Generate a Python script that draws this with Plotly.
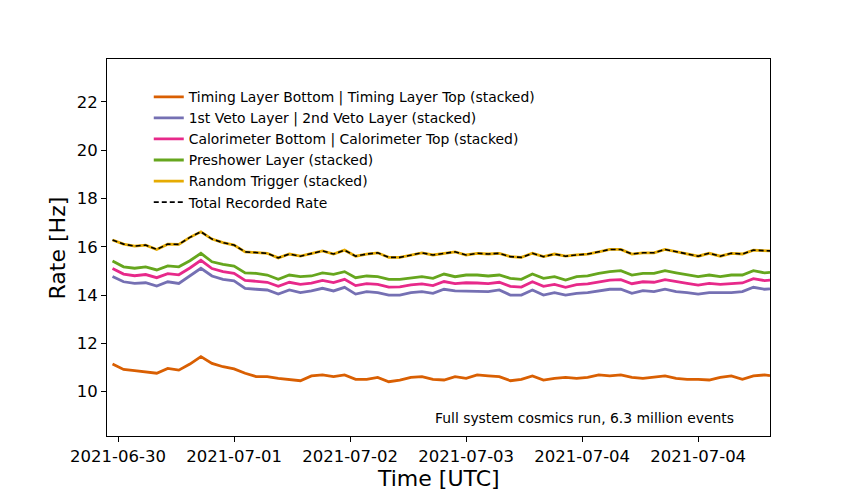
import pandas as pd
import plotly.graph_objects as go

# hours since 2021-06-30 00:00 UTC (~2 h spacing)
hours = [11, 13, 15, 17, 19, 21, 23, 25, 27, 29, 31, 33, 35, 37, 39, 41, 43, 45, 47, 49,
         51, 53, 55, 57, 59, 61, 63, 65, 67, 69, 71, 73, 75, 77, 79, 81, 83, 85, 87, 89,
         91, 93, 95, 97, 99, 101, 103, 105, 107, 109, 111, 113, 115, 117, 119, 121, 123, 125, 127, 129, 130]

# stacked rates [Hz]
timing = [11.14, 10.92, 10.87, 10.82, 10.76, 10.96, 10.89, 11.14, 11.45, 11.17, 11.03, 10.94, 10.76, 10.62, 10.62,
          10.55, 10.51, 10.45, 10.65, 10.69, 10.62, 10.69, 10.51, 10.51, 10.59, 10.41, 10.48, 10.59, 10.62, 10.51,
          10.48, 10.62, 10.55, 10.69, 10.65, 10.62, 10.45, 10.51, 10.65, 10.48, 10.55, 10.59, 10.55, 10.59, 10.69,
          10.65, 10.69, 10.59, 10.55, 10.59, 10.65, 10.55, 10.51, 10.51, 10.48, 10.59, 10.65, 10.51, 10.65, 10.69, 10.66]
veto = [14.77, 14.55, 14.48, 14.51, 14.37, 14.55, 14.48, 14.79, 15.11, 14.79, 14.65, 14.59, 14.28, 14.24, 14.21,
        14.04, 14.21, 14.10, 14.17, 14.28, 14.17, 14.32, 14.04, 14.14, 14.10, 14.00, 14.00, 14.10, 14.14, 14.07,
        14.24, 14.17, 14.17, 14.17, 14.14, 14.21, 14.00, 14.00, 14.21, 14.00, 14.10, 14.00, 14.07, 14.10, 14.18,
        14.24, 14.24, 14.07, 14.18, 14.14, 14.24, 14.14, 14.10, 14.04, 14.10, 14.10, 14.10, 14.14, 14.32, 14.24, 14.26]
calo = [15.10, 14.87, 14.80, 14.85, 14.72, 14.89, 14.84, 15.12, 15.44, 15.10, 14.97, 14.90, 14.61, 14.58, 14.53,
        14.36, 14.53, 14.44, 14.49, 14.61, 14.52, 14.65, 14.39, 14.47, 14.44, 14.33, 14.34, 14.42, 14.46, 14.39,
        14.56, 14.47, 14.51, 14.50, 14.47, 14.53, 14.36, 14.33, 14.55, 14.36, 14.44, 14.32, 14.43, 14.46, 14.55,
        14.62, 14.64, 14.47, 14.55, 14.53, 14.64, 14.55, 14.48, 14.41, 14.48, 14.44, 14.48, 14.50, 14.68, 14.60, 14.62]
preshower = [15.41, 15.17, 15.11, 15.17, 15.04, 15.21, 15.17, 15.42, 15.73, 15.38, 15.27, 15.20, 14.92, 14.90, 14.83,
             14.65, 14.83, 14.76, 14.79, 14.92, 14.86, 14.97, 14.72, 14.79, 14.76, 14.65, 14.65, 14.72, 14.76, 14.69,
             14.87, 14.76, 14.83, 14.83, 14.79, 14.83, 14.69, 14.65, 14.87, 14.69, 14.76, 14.62, 14.76, 14.79, 14.90,
             14.97, 15.01, 14.83, 14.90, 14.90, 15.01, 14.92, 14.83, 14.76, 14.83, 14.76, 14.83, 14.83, 15.01, 14.92, 14.94]
random_trig = [16.28, 16.11, 16.03, 16.07, 15.89, 16.11, 16.10, 16.39, 16.62, 16.32, 16.17, 16.07, 15.79, 15.77, 15.73,
               15.54, 15.70, 15.61, 15.73, 15.83, 15.70, 15.86, 15.61, 15.70, 15.75, 15.56, 15.56, 15.66, 15.75, 15.66,
               15.73, 15.79, 15.66, 15.73, 15.70, 15.73, 15.59, 15.56, 15.73, 15.59, 15.70, 15.61, 15.66, 15.70, 15.79,
               15.89, 15.89, 15.70, 15.75, 15.75, 15.89, 15.79, 15.70, 15.61, 15.73, 15.61, 15.73, 15.70, 15.86, 15.83, 15.83]
total = random_trig

tick_hours = [12, 33, 54, 75, 96, 117]
tick_labels = ["2021-06-30", "2021-07-01", "2021-07-02", "2021-07-03", "2021-07-04", "2021-07-04"]

start = pd.Timestamp("2021-06-30 00:00")
times = [start + pd.Timedelta(hours=h) for h in hours]
tick_times = [start + pd.Timedelta(hours=h) for h in tick_hours]

series = [
    ("Timing Layer Bottom | Timing Layer Top (stacked)", timing, "#d95f02"),
    ("1st Veto Layer | 2nd Veto Layer (stacked)", veto, "#7570b3"),
    ("Calorimeter Bottom | Calorimeter Top (stacked)", calo, "#e7298a"),
    ("Preshower Layer (stacked)", preshower, "#66a61e"),
    ("Random Trigger (stacked)", random_trig, "#e6ab02"),
]

fig = go.Figure()
for name, vals, col in series:
    fig.add_trace(go.Scatter(x=times, y=vals, mode="lines", name=name,
                             line=dict(color=col, width=2.8)))
fig.add_trace(go.Scatter(x=times, y=total, mode="lines", name="Total Recorded Rate",
                         line=dict(color="black", width=1.6, dash="5px,3px")))

fig.add_annotation(text="Full system cosmics run, 6.3 million events",
                   xref="paper", yref="paper", x=0.949, y=0.048,
                   xanchor="right", yanchor="middle", showarrow=False,
                   font=dict(size=13.9, color="black"))
# axis titles as annotations so they sit where the reference has them
fig.add_annotation(text="Time [UTC]", xref="paper", yref="paper", x=0.5, y=-0.114,
                   xanchor="center", yanchor="middle", showarrow=False,
                   font=dict(size=22, color="black"))
fig.add_annotation(text="Rate [Hz]", xref="paper", yref="paper", x=-0.074, y=0.5,
                   xanchor="center", yanchor="middle", showarrow=False, textangle=-90,
                   font=dict(size=22, color="black"))

axis_style = dict(showgrid=False, zeroline=False, showline=True, linecolor="black", linewidth=1,
                  mirror=True, ticks="outside", ticklen=5, tickcolor="black", automargin=False,
                  tickfont=dict(size=16.5, color="black"))

# page body adds an 8px offset, so the figure is 8px smaller and left/top margins shifted
fig.update_layout(
    width=847, height=483,
    margin=dict(l=99, r=85, t=51, b=55),
    paper_bgcolor="white", plot_bgcolor="white",
    font=dict(family="DejaVu Sans", color="black"),
    showlegend=True,
    legend=dict(x=0.063, y=0.941, xanchor="left", yanchor="top",
                bgcolor="rgba(0,0,0,0)", font=dict(size=13.9), tracegroupgap=0),
    xaxis=dict(type="date", range=[start + pd.Timedelta(hours=10), start + pd.Timedelta(hours=130)],
               tickvals=tick_times, ticktext=tick_labels, **axis_style),
    yaxis=dict(range=[8.16, 23.78], tickvals=[10, 12, 14, 16, 18, 20, 22], **axis_style),
)

fig.write_html("out.html")
